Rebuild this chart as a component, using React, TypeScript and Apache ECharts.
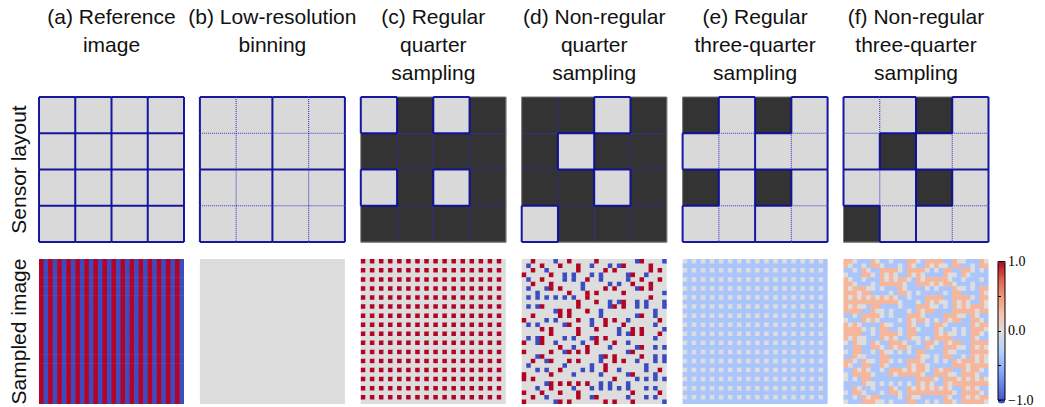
import React, { useEffect, useRef } from "react";
import * as echarts from "echarts";

// ---------------- data ----------------
const titles = [
  "(a) Reference\nimage",
  "(b) Low-resolution\nbinning",
  "(c) Regular\nquarter\nsampling",
  "(d) Non-regular\nquarter\nsampling",
  "(e) Regular\nthree-quarter\nsampling",
  "(f) Non-regular\nthree-quarter\nsampling",
];
const rowLabels = ["Sensor layout", "Sampled image"];
const colorbarLabels: Record<string, string> = { "1": "1.0", "0": "0.0", "-1": "\u22121.0" };

// reference image: one row of the vertical stripe pattern (repeated on every row)
const referenceRow = [
  1, -1, 1, -1, 1, -1, 1, -1, 1, -1, 1, -1, 1, -1, 1, -1,
  1, -1, 1, -1, 1, -1, 1, -1, 1, -1, 1, -1, 1, -1, 1, -1,
];

// sensor layouts (1 = sampled / light, 0 = masked / dark)
const layoutA = [[1, 1, 1, 1], [1, 1, 1, 1], [1, 1, 1, 1], [1, 1, 1, 1]];
const layoutB = [[1, 1, 1, 1], [1, 1, 1, 1], [1, 1, 1, 1], [1, 1, 1, 1]];
const layoutC = [[1, 0, 1, 0], [0, 0, 0, 0], [1, 0, 1, 0], [0, 0, 0, 0]];
const layoutD = [[0, 0, 1, 0], [0, 1, 0, 0], [0, 0, 1, 0], [1, 0, 0, 0]];
const layoutE = [[0, 1, 0, 1], [1, 1, 1, 1], [0, 1, 0, 1], [1, 1, 1, 1]];
const layoutF = [[1, 1, 0, 1], [1, 0, 1, 1], [1, 1, 0, 1], [0, 1, 1, 1]];

// non-regular pattern: position inside each 2x2 block (0=TL,1=TR,2=BL,3=BR)
// of the single sampled pixel in (d) = the single missing pixel in (f)
const nonRegularBlocks = [
  [3, 0, 2, 1, 2, 0, 2, 3, 0, 3, 3, 2, 1, 0, 2, 1],
  [2, 0, 1, 2, 3, 3, 0, 3, 3, 0, 0, 3, 2, 3, 0, 0],
  [1, 2, 0, 2, 1, 1, 3, 0, 1, 3, 3, 1, 2, 0, 2, 0],
  [1, 3, 1, 0, 0, 2, 1, 2, 2, 0, 0, 2, 1, 0, 0, 3],
  [1, 1, 1, 1, 1, 1, 2, 0, 2, 3, 3, 2, 3, 3, 0, 3],
  [1, 1, 0, 3, 2, 2, 0, 2, 3, 1, 0, 0, 1, 1, 3, 1],
  [2, 0, 3, 3, 0, 0, 2, 3, 1, 2, 2, 3, 1, 0, 1, 2],
  [1, 1, 2, 2, 1, 0, 2, 1, 2, 0, 3, 0, 2, 2, 1, 3],
  [3, 3, 2, 0, 3, 3, 0, 3, 2, 2, 1, 1, 0, 0, 3, 0],
  [0, 1, 0, 1, 2, 3, 1, 2, 0, 3, 0, 1, 3, 2, 3, 3],
  [0, 3, 2, 0, 1, 0, 0, 0, 3, 2, 2, 1, 0, 2, 3, 3],
  [3, 0, 1, 0, 3, 0, 0, 3, 1, 2, 0, 0, 1, 3, 1, 1],
  [2, 1, 1, 2, 0, 3, 1, 1, 3, 0, 1, 3, 2, 1, 3, 0],
  [0, 0, 3, 2, 2, 2, 2, 2, 3, 3, 0, 3, 1, 1, 1, 1],
  [2, 1, 2, 0, 2, 1, 2, 1, 1, 1, 1, 1, 2, 1, 1, 2],
  [2, 0, 1, 3, 2, 2, 0, 1, 0, 2, 2, 1, 2, 1, 1, 3],
];

const coolwarm = [
  "#3b4cc0", "#6282ea", "#8db0fe", "#b8d0f9", "#dddddd",
  "#f5c4ad", "#f49a7b", "#de604d", "#b40426",
];

// ---------------- styles / layout ----------------
const LIGHT = "#d9d9d9";
const DARK = "#333333";
const BLUE = "#0c0c9c";
const DOT = "#2424c4";
const FRAME = "#777777";
const L0 = 39;
const STEP = 160.9;
const S = 145;
const TOP_Y = 97;
const BOT_Y = 259;
const CB = { left: 998, top: 261.5, width: 7, height: 142 };
const SANS = "'Liberation Sans', Arial, Helvetica, sans-serif";
const SERIF = "'Liberation Serif', 'Times New Roman', serif";

// ---------------- derived structures ----------------
const N = referenceRow.length;
const idx = referenceRow.map((_, i) => i);
const ref = (r: number, c: number) => referenceRow[c];
const posInBlock = (r: number, c: number) => (r % 2) * 2 + (c % 2);
const nonReg = (r: number, c: number) => nonRegularBlocks[Math.floor(r / 2)][Math.floor(c / 2)];

type Panel = {
  layout: number[][];
  perPixel: boolean;
  sampled: (r: number, c: number) => boolean;
};
const panels: Panel[] = [
  { layout: layoutA, perPixel: true, sampled: () => true },
  { layout: layoutB, perPixel: false, sampled: () => true },
  { layout: layoutC, perPixel: false, sampled: (r, c) => layoutC[r % 4][c % 4] === 1 },
  { layout: layoutD, perPixel: false, sampled: (r, c) => posInBlock(r, c) === nonReg(r, c) },
  { layout: layoutE, perPixel: false, sampled: (r, c) => layoutE[r % 4][c % 4] === 1 },
  { layout: layoutF, perPixel: false, sampled: (r, c) => posInBlock(r, c) !== nonReg(r, c) },
];

function sampledImage(p: Panel) {
  const out: number[][] = [];
  for (let r = 0; r < N; r++) {
    for (let c = 0; c < N; c++) {
      if (!p.sampled(r, c)) { out.push([c, r, 0]); continue; }
      if (p.perPixel) { out.push([c, r, ref(r, c)]); continue; }
      const br = r - (r % 2), bc = c - (c % 2);
      let sum = 0, n = 0;
      for (let i = 0; i < 2; i++) for (let j = 0; j < 2; j++) {
        if (p.sampled(br + i, bc + j)) { sum += ref(br + i, bc + j); n++; }
      }
      out.push([c, r, sum / n]);
    }
  }
  return out;
}

function cellData(layout: number[][]) {
  const out: number[][] = [];
  layout.forEach((row, r) => row.forEach((v, c) => out.push([c, r, v])));
  return out;
}

function edgeData(layout: number[][], perPixel: boolean) {
  const n = layout.length;
  const inside = (r: number, c: number) => r >= 0 && c >= 0 && r < n && c < n;
  const smp = (r: number, c: number) => inside(r, c) && layout[r][c] === 1;
  const grp = (r: number, c: number) => {
    if (!inside(r, c)) return -2;
    if (layout[r][c] !== 1) return -1;
    return perPixel ? r * n + c : Math.floor(r / 2) * 2 + Math.floor(c / 2);
  };
  const kind = (r1: number, c1: number, r2: number, c2: number) => {
    if ((smp(r1, c1) || smp(r2, c2)) && grp(r1, c1) !== grp(r2, c2)) return 1;
    if (!inside(r1, c1) || !inside(r2, c2)) return 2;
    return 0;
  };
  const out: number[][] = [];
  for (let r = 0; r < n; r++) for (let c = 0; c <= n; c++) {
    out.push([c, r, c, r + 1, kind(r, c - 1, r, c)]);
  }
  for (let r = 0; r <= n; r++) for (let c = 0; c < n; c++) {
    out.push([c, r, c + 1, r, kind(r - 1, c, r, c)]);
  }
  const order = [0, 2, 1];
  return out.sort((a, b) => order.indexOf(a[4]) - order.indexOf(b[4]));
}

function buildOption() {
  const grid: any[] = [];
  const xAxis: any[] = [];
  const yAxis: any[] = [];
  const series: any[] = [];
  const heatIdx: number[] = [];

  panels.forEach((p, i) => {
    const g = grid.length;
    grid.push({ left: L0 + i * STEP, top: TOP_Y, width: S, height: S });
    xAxis.push({ type: "value", gridIndex: g, min: 0, max: 4, show: false });
    yAxis.push({ type: "value", gridIndex: g, min: 0, max: 4, inverse: true, show: false });
    series.push({
      type: "custom", xAxisIndex: g, yAxisIndex: g, silent: true, clip: false,
      encode: { x: 0, y: 1 },
      data: cellData(p.layout),
      renderItem: (_: any, api: any) => {
        const c = api.value(0), r = api.value(1);
        const p0 = api.coord([c, r]);
        const p1 = api.coord([c + 1, r + 1]);
        return {
          type: "rect",
          shape: { x: p0[0], y: Math.min(p0[1], p1[1]), width: p1[0] - p0[0] + 0.5, height: Math.abs(p1[1] - p0[1]) + 0.5 },
          style: { fill: api.value(2) === 1 ? LIGHT : DARK },
        };
      },
    });
    series.push({
      type: "custom", xAxisIndex: g, yAxisIndex: g, silent: true, clip: false,
      encode: { x: [0, 2], y: [1, 3] },
      data: edgeData(p.layout, p.perPixel),
      renderItem: (_: any, api: any) => {
        const a = api.coord([api.value(0), api.value(1)]);
        const b = api.coord([api.value(2), api.value(3)]);
        const k = api.value(4);
        const style =
          k === 1 ? { stroke: BLUE, lineWidth: 2, opacity: 0.95 }
            : k === 0 ? { stroke: DOT, lineWidth: 1.1, lineDash: [1, 1], opacity: 0.9 }
              : { stroke: FRAME, lineWidth: 1 };
        return { type: "line", shape: { x1: a[0], y1: a[1], x2: b[0], y2: b[1] }, style };
      },
    });
  });

  panels.forEach((p, i) => {
    const g = grid.length;
    grid.push({ left: L0 + i * STEP, top: BOT_Y, width: S, height: S });
    xAxis.push({ type: "category", gridIndex: g, data: idx, show: false });
    yAxis.push({ type: "category", gridIndex: g, data: idx, inverse: true, show: false });
    heatIdx.push(series.length);
    series.push({
      type: "custom", xAxisIndex: g, yAxisIndex: g, silent: true, clip: false,
      encode: { x: 0, y: 1 },
      data: sampledImage(p),
      renderItem: (_: any, api: any) => {
        const ctr = api.coord([api.value(0), api.value(1)]);
        const sz = api.size([1, 1]);
        const last = api.value(0) === N - 1;
        const lastR = api.value(1) === N - 1;
        return {
          type: "rect",
          shape: {
            x: ctr[0] - sz[0] / 2, y: ctr[1] - sz[1] / 2,
            width: sz[0] + (last ? 0 : 0.6), height: sz[1] + (lastR ? 0 : 0.6),
          },
          style: { fill: api.visual("color") },
        };
      },
    });
  });

  const cg = grid.length;
  grid.push({
    left: CB.left, top: CB.top, width: CB.width, height: CB.height,
    show: true, borderColor: "#000", borderWidth: 1, backgroundColor: "transparent", z: 10,
  });
  xAxis.push({ type: "value", gridIndex: cg, min: 0, max: 1, show: false });
  yAxis.push({
    type: "value", gridIndex: cg, min: -1, max: 1, interval: 0.5, position: "right",
    axisLine: { show: false },
    splitLine: { show: false },
    axisTick: { show: true, length: 3, lineStyle: { color: "#000", width: 1 } },
    axisLabel: {
      show: true, margin: 3, color: "#000", fontSize: 14, fontFamily: SERIF,
      formatter: (v: number) => colorbarLabels[String(v)] ?? "",
    },
    z: 10,
  });

  const graphic: any[] = titles.map((t, i) => ({
    type: "text",
    x: L0 + i * STEP + S / 2,
    y: 2,
    style: {
      text: t, fontSize: 21, fontFamily: SANS, fill: "#111",
      textAlign: "center", textVerticalAlign: "top", lineHeight: 28,
    },
  }));
  rowLabels.forEach((t, i) => {
    graphic.push({
      type: "text",
      x: 18,
      y: (i === 0 ? TOP_Y : BOT_Y) + S / 2,
      rotation: Math.PI / 2,
      style: {
        text: t, fontSize: 21, fontFamily: SANS, fill: "#111",
        textAlign: "center", textVerticalAlign: "middle",
      },
    });
  });

  return {
    animation: false,
    backgroundColor: "#fff",
    grid, xAxis, yAxis, series, graphic,
    visualMap: {
      type: "continuous", min: -1, max: 1, seriesIndex: heatIdx, dimension: 2,
      calculable: false, realtime: false, hoverLink: false,
      left: CB.left, top: CB.top, itemWidth: CB.width, itemHeight: CB.height,
      padding: 0, z: 2,
      inRange: { color: coolwarm },
    },
  };
}

export default function App() {
  const ref = useRef<HTMLDivElement>(null);
  useEffect(() => {
    if (!ref.current) return;
    const chart = echarts.init(ref.current, null, { renderer: "svg" });
    chart.setOption(buildOption() as any);
    return () => chart.dispose();
  }, []);
  return (
    <div
      ref={ref}
      style={{ position: "fixed", left: 0, top: 0, width: 1045, height: 407 }}
    />
  );
}
